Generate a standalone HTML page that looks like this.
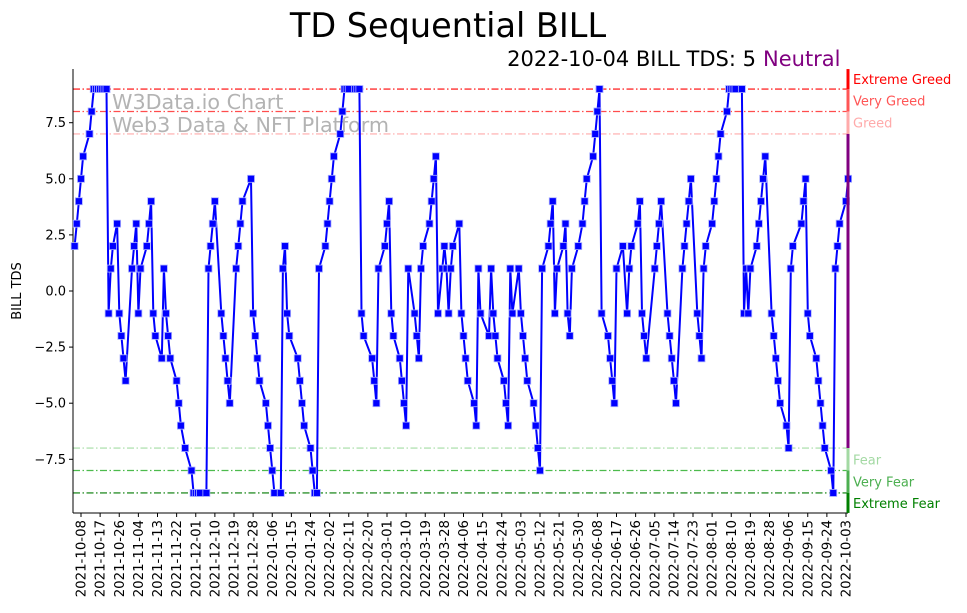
<!DOCTYPE html>
<html><head><meta charset="utf-8"><style>
body{margin:0;background:#fff}
svg{display:block;font-family:"DejaVu Sans","Liberation Sans",sans-serif}
</style></head><body>
<svg id="chart" width="967" height="613" viewBox="0 0 967 613" xmlns="http://www.w3.org/2000/svg">
<rect width="967" height="613" fill="#fff"/>
<text x="448" y="37" font-size="33.5" text-anchor="middle" fill="#000">TD Sequential BILL</text>
<text x="756" y="66" font-size="21" text-anchor="end" fill="#000">2022-10-04 BILL TDS: 5</text>
<text x="763" y="66" font-size="21" fill="#800080">Neutral</text>
<text x="112" y="109" font-size="20.7" fill="#b3b3b3">W3Data.io Chart</text>
<text x="112" y="132" font-size="20.7" fill="#b3b3b3">Web3 Data &amp; NFT Platform</text>
<text transform="translate(21,291) rotate(-90)" font-size="13" text-anchor="middle" fill="#000">BILL TDS</text>
<g id="refs"></g>
<g id="axes"></g>
<g id="series"></g>
<g id="zones"></g>
</svg>
<script>
const days=[-3,-2,-1,0,1,4,5,6,7,8,9,10,11,12,13,14,15,17,18,19,20,21,24,25,26,27,28,31,32,33,34,35,38,39,40,41,42,45,46,47,49,52,53,54,55,56,59,60,61,62,63,66,67,68,69,70,73,74,75,76,80,81,82,83,84,87,88,89,90,91,94,95,96,97,98,102,103,104,105,108,109,110,111,112,115,116,117,118,119,122,123,124,125,126,129,130,131,132,133,137,138,139,140,143,144,145,146,147,150,151,152,153,154,157,158,159,160,161,164,165,166,167,168,170,171,172,173,174,175,178,179,180,181,182,185,186,187,188,192,193,194,195,196,199,200,201,202,203,206,207,208,209,210,213,214,215,216,217,220,221,222,223,224,227,228,229,230,231,234,236,237,238,241,242,243,244,245,248,249,250,251,252,255,257,258,259,262,263,264,265,266,270,271,272,273,276,277,278,279,280,283,284,285,286,287,290,291,292,293,294,297,298,299,300,301,304,305,306,307,308,311,312,313,314,315,318,319,320,321,322,325,326,327,328,329,332,333,334,335,339,340,341,342,343,346,347,348,349,350,353,354,355,356,357,360,361];
const tds=[2,3,4,5,6,7,8,9,9,9,9,9,9,9,-1,1,2,3,-1,-2,-3,-4,1,2,3,-1,1,2,3,4,-1,-2,-3,1,-1,-2,-3,-4,-5,-6,-7,-8,-9,-9,-9,-9,-9,1,2,3,4,-1,-2,-3,-4,-5,1,2,3,4,5,-1,-2,-3,-4,-5,-6,-7,-8,-9,-9,1,2,-1,-2,-3,-4,-5,-6,-7,-8,-9,-9,1,2,3,4,5,6,7,8,9,9,9,9,9,9,-1,-2,-3,-4,-5,1,2,3,4,-1,-2,-3,-4,-5,-6,1,-1,-2,-3,1,2,3,4,5,6,-1,1,2,1,-1,1,2,3,-1,-2,-3,-4,-5,-6,1,-1,-2,1,-1,-2,-3,-4,-5,-6,1,-1,1,-1,-2,-3,-4,-5,-6,-7,-8,1,2,3,4,-1,1,2,3,-1,-2,1,2,3,4,5,6,7,8,9,-1,-2,-3,-4,-5,1,2,-1,1,2,3,4,-1,-2,-3,1,2,3,4,-1,-2,-3,-4,-5,1,2,3,4,5,-1,-2,-3,1,2,3,4,5,6,7,8,9,9,9,9,9,-1,1,-1,1,2,3,4,5,6,-1,-2,-3,-4,-5,-6,-7,1,2,3,4,5,-1,-2,-3,-4,-5,-6,-7,-8,-9,1,2,3,4,5];
const tickDays=[0,9,18,27,36,45,54,63,72,81,90,99,108,117,126,135,144,153,162,171,180,189,198,207,216,225,234,243,252,261,270,279,288,297,306,315,324,333,342,351,360];
const tickLabels=["2021-10-08","2021-10-17","2021-10-26","2021-11-04","2021-11-13","2021-11-22","2021-12-01","2021-12-10","2021-12-19","2021-12-28","2022-01-06","2022-01-15","2022-01-24","2022-02-02","2022-02-11","2022-02-20","2022-03-01","2022-03-10","2022-03-19","2022-03-28","2022-04-06","2022-04-15","2022-04-24","2022-05-03","2022-05-12","2022-05-21","2022-05-30","2022-06-08","2022-06-17","2022-06-26","2022-07-05","2022-07-14","2022-07-23","2022-08-01","2022-08-10","2022-08-19","2022-08-28","2022-09-06","2022-09-15","2022-09-24","2022-10-03"];
const yTicks=[-7.5,-5,-2.5,0,2.5,5,7.5];
const refLevels=[9,8,7,-7,-8,-9];
const refColors=["#ff0000","#ff4d4d","#ffaaaa","#a3dca3","#4cbb4c","#007a00"];
const zoneNames=["Extreme Greed","Very Greed","Greed","Fear","Very Fear","Extreme Fear"];
const zoneColors=["#ff0000","#ff5555","#ffaaaa","#a3d9a3","#4caf50","#008000"];

const NS="http://www.w3.org/2000/svg";
const L=73,R=848,T=69,B=513;
const xS=d=>81+d*2.125;
const yS=v=>291-v*22.44;
function mk(tag,attrs,parent){const e=document.createElementNS(NS,tag);for(const k in attrs)e.setAttribute(k,attrs[k]);parent.appendChild(e);return e;}
const refs=document.getElementById('refs'),axes=document.getElementById('axes'),series=document.getElementById('series'),zones=document.getElementById('zones');

refLevels.forEach((lv,i)=>{
  const ln=mk('line',{x1:L,x2:R,y1:yS(lv),y2:yS(lv),stroke:refColors[i],'stroke-width':1.2,'stroke-dasharray':'7,2.5,1.5,2.5'},refs);
  
  
});

const sp=mk('line',{x1:L,x2:L,y1:T,y2:B,stroke:'#000','stroke-width':1},axes);


const sb=mk('line',{x1:L,x2:R,y1:B,y2:B,stroke:'#000','stroke-width':1},axes);


yTicks.forEach(v=>{
  mk('line',{x1:L-4,x2:L,y1:yS(v),y2:yS(v),stroke:'#000'},axes);
  const t=mk('text',{x:L-7,y:yS(v)+4.5,'font-size':13,'text-anchor':'end'},axes);
  t.textContent=(v<0?'\u2212':'')+Math.abs(v).toFixed(1);
  
  
});
tickDays.forEach((d,i)=>{
  const x=xS(d);
  mk('line',{x1:x,x2:x,y1:B,y2:B+4,stroke:'#000'},axes);
  const t=mk('text',{transform:`translate(${x+4.5},${B+7}) rotate(-90)`,'font-size':13.3,'text-anchor':'end'},axes);
  t.textContent=tickLabels[i];
  
  
});

const pts=days.map((d,i)=>xS(d).toFixed(1)+','+yS(tds[i]).toFixed(1)).join(' ');
const pl=mk('polyline',{points:pts,fill:'none',stroke:'#0000ff','stroke-width':2,'stroke-linejoin':'round'},series);


days.forEach((d,i)=>{
  const r=mk('rect',{x:xS(d)-3.5,y:yS(tds[i])-3.5,width:7,height:7,fill:'#0000ff',stroke:'#aab0ff','stroke-width':0.8},series);
  
  
});

const bounds=[9.89,9,8,7,-7,-8,-9,-9.89];
const segColors=["#ff0000","#ff5555","#ffaaaa","#800080","#a3d9a3","#4caf50","#008000"];
for(let i=0;i<7;i++){
  const s=mk('rect',{x:R-1.5,y:yS(bounds[i]),width:3,height:yS(bounds[i+1])-yS(bounds[i]),fill:segColors[i]},zones);
  
  
}
const labelVals=[9.45,8.5,7.5,-7.5,-8.5,-9.45];
zoneNames.forEach((n,i)=>{
  const t=mk('text',{x:853,y:yS(labelVals[i])+5,'font-size':13,fill:zoneColors[i]},zones);
  t.textContent=n;
  
  
});
</script>
</body></html>
